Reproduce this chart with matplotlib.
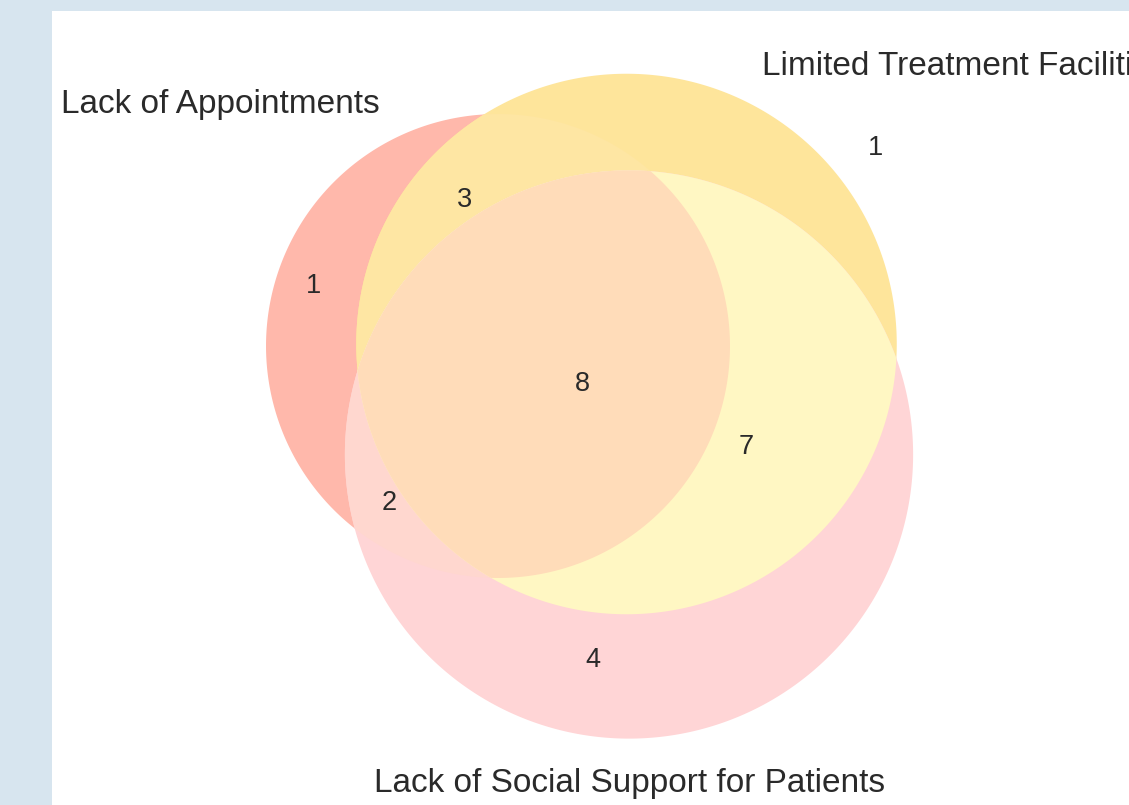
import numpy as np
import matplotlib
matplotlib.use("Agg")
import matplotlib.pyplot as plt
from matplotlib.patches import Polygon, Rectangle

plt.rcParams['font.family'] = ['Liberation Sans', 'DejaVu Sans']

# ---- data ----
set_names = ["Lack of Appointments", "Limited Treatment Facilities",
             "Lack of Social Support for Patients"]
# region keys: which sets (A,B,C) the region belongs to
region_keys = ["100", "010", "001", "110", "101", "011", "111"]
region_counts = [1, 1, 4, 3, 2, 7, 8]

# ---- layout (pixel space) ----
W, H = 1129, 805
radius_scale = 62.0
centers = [(498, 346), (626.5, 344), (629, 454.5)]
region_label_pos = {"100": (314, 293), "010": (875, 155), "001": (593, 667),
                    "110": (465, 207), "101": (389, 510), "011": (746, 454),
                    "111": (582, 391)}
set_label_pos = [(61, 113, 'left'), (762, 75, 'left'), (629.5, 792, 'center')]
region_colors = {"100": "#ffb8ab", "010": "#fee59b", "001": "#ffd5d6",
                 "110": "#fee6a3", "101": "#ffd7cf", "011": "#fff7c3",
                 "111": "#ffdcb9"}

# set sizes from region counts
set_sizes = []
for i in range(3):
    set_sizes.append(sum(c for k, c in zip(region_keys, region_counts) if k[i] == "1"))
radii = [radius_scale * np.sqrt(s) for s in set_sizes]


def circle_poly(c, r, n=720):
    t = np.linspace(0, 2 * np.pi, n, endpoint=False)
    return np.column_stack([c[0] + r * np.cos(t), c[1] + r * np.sin(t)])


def clip_convex(subject, clipper):
    # Sutherland-Hodgman, clipper convex
    def inside(p, a, b):
        return (b[0] - a[0]) * (p[1] - a[1]) - (b[1] - a[1]) * (p[0] - a[0]) >= 0

    def inter(p1, p2, a, b):
        x1, y1 = p1; x2, y2 = p2; x3, y3 = a; x4, y4 = b
        den = (x1 - x2) * (y3 - y4) - (y1 - y2) * (x3 - x4)
        t = ((x1 - x3) * (y3 - y4) - (y1 - y3) * (x3 - x4)) / den
        return (x1 + t * (x2 - x1), y1 + t * (y2 - y1))

    out = [tuple(p) for p in subject]
    m = len(clipper)
    for i in range(m):
        a, b = clipper[i], clipper[(i + 1) % m]
        inp = out
        out = []
        if not inp:
            break
        s = inp[-1]
        for e in inp:
            if inside(e, a, b):
                if not inside(s, a, b):
                    out.append(inter(s, e, a, b))
                out.append(e)
            elif inside(s, a, b):
                out.append(inter(s, e, a, b))
            s = e
    return np.array(out)


fig = plt.figure(figsize=(W / 100, H / 100), dpi=100)
fig.patch.set_facecolor("#d7e5ef")
ax = fig.add_axes([0, 0, 1, 1])
ax.set_xlim(0, W)
ax.set_ylim(H, 0)
ax.axis("off")

panel = Rectangle((52, 11), W - 52, H - 11, facecolor="white", edgecolor="none", zorder=0)
ax.add_patch(panel)

polys = [circle_poly(c, r) for c, r in zip(centers, radii)]

# paint single sets
for i, key in enumerate(["100", "010", "001"]):
    ax.add_patch(Polygon(polys[i], closed=True, facecolor=region_colors[key],
                         edgecolor="none", zorder=1))
# pairwise
pairs = {"110": (0, 1), "101": (0, 2), "011": (1, 2)}
for key in ["110", "101", "011"]:
    i, j = pairs[key]
    p = clip_convex(polys[i], polys[j])
    ax.add_patch(Polygon(p, closed=True, facecolor=region_colors[key],
                         edgecolor="none", zorder=2))
# triple
p = clip_convex(clip_convex(polys[0], polys[1]), polys[2])
ax.add_patch(Polygon(p, closed=True, facecolor=region_colors["111"],
                     edgecolor="none", zorder=3))

for key, cnt in zip(region_keys, region_counts):
    x, y = region_label_pos[key]
    ax.text(x, y, str(cnt), ha="center", va="baseline", fontsize=19.5,
            color="#2a2a2a", zorder=5)

for name, (x, y, ha) in zip(set_names, set_label_pos):
    ax.text(x, y, name, ha=ha, va="baseline", fontsize=24, color="#2a2a2a",
            zorder=5, clip_on=True)

fig.savefig("out.png", dpi=100, facecolor=fig.get_facecolor())
